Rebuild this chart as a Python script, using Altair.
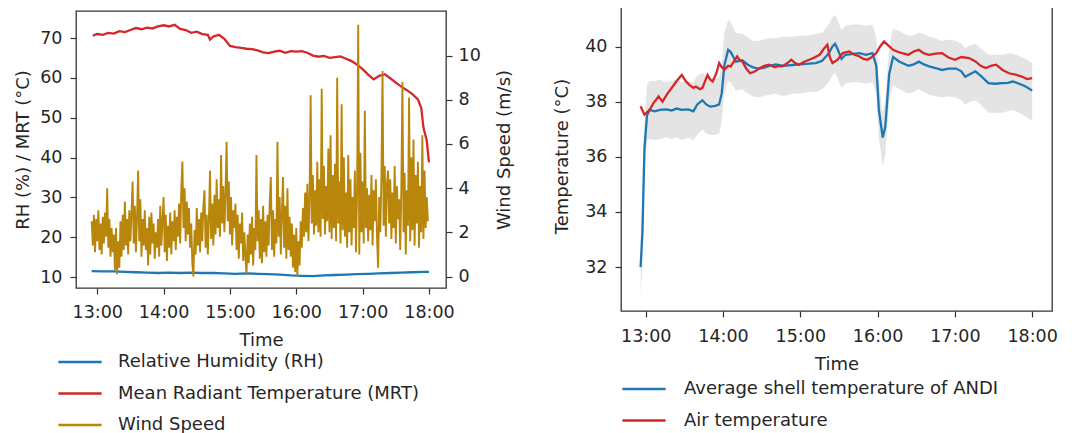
import altair as alt
import pandas as pd

FONT = "DejaVu Sans"
TXT = "#262626"
BLUE = "#1f77b4"
RED = "#d62728"
GOLD = "#b8860b"

# ---------------- left panel data (minutes after 13:00) ----------------
wind_start = -5
wind_step = 1
wind_speed = [
    2.5, 1.4, 2.8, 1.1, 2.6, 1.6, 3.0, 1.2, 2.4, 1.0,
    2.7, 1.5, 2.9, 1.8, 4.0, 1.3, 2.6, 0.9, 2.2, 1.1,
    1.9, 0.3, 2.2, 0.1, 1.6, 0.4, 2.5, 0.9, 2.8, 1.2,
    3.4, 1.4, 2.6, 1.0, 3.0, 1.6, 2.9, 4.3, 1.5, 3.2,
    1.1, 2.7, 4.8, 1.6, 3.5, 0.9, 2.6, 1.4, 3.0, 1.2,
    2.2, 0.5, 2.7, 1.0, 2.9, 1.5, 2.4, 0.8, 2.0, 1.3,
    2.6, 0.9, 3.2, 1.4, 2.5, 3.6, 1.1, 2.8, 0.7, 2.3,
    1.3, 2.9, 1.0, 2.5, 1.6, 3.0, 1.2, 2.7, 1.8, 3.3,
    1.5, 3.9, 5.2, 2.2, 4.0, 1.6, 3.4, 1.9, 3.1, 1.3,
    2.4, 0.6, 0.0, 2.1, 1.0, 3.1, 1.4, 2.6, 1.1, 2.9,
    1.6, 3.2, 3.9, 1.3, 2.8, 1.0, 2.6, 4.8, 1.7, 3.3,
    1.4, 3.7, 1.9, 4.4, 2.2, 3.5, 1.8, 5.5, 2.4, 4.1,
    2.0, 3.8, 6.1, 2.5, 4.3, 1.9, 3.6, 1.4, 3.0, 2.2,
    3.3, 1.2, 2.8, 0.8, 2.4, 1.5, 2.9, 0.7, 2.0, 0.9,
    0.1, 1.9, 0.6, 2.4, 1.0, 2.7, 0.5, 2.2, 1.2, 5.5,
    1.6, 3.0, 0.8, 2.6, 0.6, 3.2, 1.1, 2.5, 0.9, 2.8,
    1.4, 3.4, 4.5, 1.2, 3.0, 0.9, 2.6, 1.5, 6.1, 1.8,
    3.6, 1.0, 2.9, 4.5, 1.3, 3.2, 0.8, 4.0, 1.2, 2.7,
    0.9, 2.4, 0.4, 1.9, 0.2, 2.2, 0.0, 1.6, 0.5, 2.5,
    1.3, 3.1, 1.8, 3.8, 2.0, 4.2, 1.6, 3.5, 8.2, 2.4,
    4.6, 1.9, 3.9, 2.3, 5.2, 2.0, 4.4, 1.8, 8.5, 2.6,
    5.0, 1.9, 4.1, 2.5, 5.8, 2.0, 6.4, 1.7, 4.6, 2.2,
    5.1, 1.6, 9.0, 2.4, 4.3, 1.5, 7.8, 2.1, 5.4, 1.8,
    3.8, 1.3, 5.5, 2.0, 4.4, 1.4, 3.6, 2.2, 4.8, 1.1,
    3.9, 11.4, 1.0, 5.6, 2.0, 4.3, 1.5, 7.5, 2.2, 4.0,
    1.6, 3.7, 2.1, 4.6, 1.4, 3.9, 2.5, 4.4, 1.8, 0.4,
    3.6, 2.0, 4.5, 9.3, 2.3, 5.0, 1.8, 4.2, 4.8, 2.4,
    4.4, 1.7, 3.8, 2.2, 5.0, 1.5, 4.1, 2.6, 3.5, 1.2,
    4.0, 8.8, 2.0, 4.7, 1.0, 3.9, 2.3, 8.1, 1.6, 5.4,
    2.1, 6.2, 1.4, 4.6, 2.4, 5.2, 1.3, 4.1, 2.0, 6.4,
    1.7, 4.8, 2.2, 3.6, 2.5,
]

rh_time = [-5, 5, 15, 25, 35, 45, 55, 65, 75, 85, 95, 105, 115, 125, 135, 145,
           155, 165, 175, 185, 195, 205, 215, 225, 235, 245, 255, 265, 275, 285, 295, 300]
rh_values = [11.5, 11.4, 11.4, 11.3, 11.2, 11.1, 11.0, 11.1, 11.0, 11.1, 11.0, 11.0, 10.9, 10.8, 10.9, 10.8,
             10.7, 10.6, 10.4, 10.3, 10.2, 10.4, 10.5, 10.6, 10.7, 10.8, 10.9, 11.0, 11.1, 11.2, 11.3, 11.3]

mrt_time = [-4, 0, 5, 10, 15, 20, 25, 30, 35, 40, 45, 50, 55, 60, 65, 70, 75, 80, 85, 90,
            95, 100, 102, 105, 110, 115, 120, 125, 130, 135, 140, 145, 150, 155, 160, 165,
            170, 175, 180, 185, 190, 195, 200, 205, 210, 215, 220, 225, 230, 235, 240, 245,
            250, 255, 260, 265, 270, 275, 280, 285, 290, 293, 295, 298, 300]
mrt_values = [70.6, 71.0, 70.8, 71.3, 71.1, 71.7, 71.5, 72.0, 72.5, 72.2, 72.6, 72.4, 72.9, 73.2, 72.9, 73.3,
              72.3, 72.0, 71.3, 71.6, 71.0, 70.8, 69.6, 70.4, 70.8, 69.8, 68.0, 67.7, 67.5, 67.3, 67.2,
              66.9, 66.4, 66.2, 66.6, 66.8, 66.3, 66.7, 66.6, 66.7, 66.3, 65.6, 65.3, 65.5, 65.0, 65.2,
              65.4, 64.8, 64.2, 63.3, 62.2, 60.8, 59.6, 60.5, 60.9, 59.9, 58.8, 57.8, 56.9, 55.9, 54.6,
              52.5, 47.5, 44.2, 38.8]

# ---------------- right panel data ----------------
shell_time = [-4, -2.6, -1, 1, 3, 7, 11, 16, 20, 24, 28, 33, 37, 40, 44, 47, 50, 54, 57, 59,
              61, 64, 66, 70, 75, 79, 83, 87, 91, 96, 101, 107, 114, 120, 127, 132, 137, 142, 145, 147,
              149, 152, 155, 160, 166, 171, 176, 179, 181, 184, 186, 189, 192, 197, 204, 208, 212, 216, 220, 225,
              230, 235, 241, 245, 248, 252, 256, 261, 266, 271, 277, 281, 285, 290, 295, 300]
shell_temp = [32.0, 33.2, 36.3, 37.5, 37.7, 37.65, 37.7, 37.72, 37.68, 37.75, 37.7, 37.72, 37.65, 37.9, 38.05, 37.9,
              37.82, 37.85, 37.9, 38.3, 39.3, 39.88, 39.8, 39.45, 39.5, 39.35, 39.25, 39.2, 39.22, 39.3, 39.35,
              39.3, 39.33, 39.35, 39.38, 39.4, 39.48, 39.75, 40.0, 40.1, 39.9, 39.55, 39.7, 39.72, 39.76, 39.7,
              39.76, 39.3, 37.7, 36.7, 37.1, 39.0, 39.62, 39.45, 39.3, 39.35, 39.45, 39.35, 39.28, 39.22, 39.15,
              39.2, 39.2, 39.1, 38.9, 39.0, 39.1, 38.9, 38.67, 38.65, 38.67, 38.68, 38.73, 38.65, 38.55, 38.4]
band_low = [31.0, 32.0, 35.3, 36.6, 36.65, 36.6, 36.65, 36.7, 36.65, 36.7, 36.6, 36.7, 36.6, 36.8, 37.0, 36.85,
            36.8, 36.8, 36.85, 37.3, 38.3, 38.75, 38.7, 38.4, 38.45, 38.3, 38.2, 38.15, 38.2, 38.25, 38.3,
            38.2, 38.3, 38.3, 38.35, 38.35, 38.45, 38.7, 38.95, 39.05, 38.85, 38.5, 38.65, 38.7, 38.7, 38.65,
            38.7, 38.3, 36.7, 35.65, 36.1, 38.0, 38.6, 38.45, 38.3, 38.35, 38.45, 38.35, 38.25, 38.2, 38.15,
            38.2, 38.15, 38.05, 37.9, 38.0, 38.05, 37.85, 37.6, 37.6, 37.6, 37.65, 37.7, 37.6, 37.45, 37.3]
band_high = [33.0, 34.3, 37.3, 38.6, 38.75, 38.75, 38.8, 38.7, 38.75, 38.8, 38.7, 38.75, 38.7, 38.95, 39.05, 38.9,
             38.85, 38.85, 38.9, 39.3, 40.5, 40.95, 40.9, 40.5, 40.45, 40.35, 40.2, 40.2, 40.25, 40.3, 40.3,
             40.35, 40.35, 40.4, 40.4, 40.45, 40.5, 40.8, 41.05, 41.15, 40.95, 40.6, 40.75, 40.8, 40.8, 40.75,
             40.8, 40.3, 38.7, 37.6, 38.1, 40.0, 40.65, 40.55, 40.4, 40.4, 40.5, 40.45, 40.35, 40.3, 40.2,
             40.25, 40.2, 40.1, 39.95, 40.05, 40.1, 39.9, 39.7, 39.7, 39.7, 39.75, 39.75, 39.65, 39.55, 39.4]

air_time = [-4, -1, 3, 6, 10, 13, 17, 21, 24, 28, 31, 34, 37, 39, 42, 44, 48, 50, 52, 55,
            57, 59, 61, 64, 66, 69, 71, 73, 75, 78, 81, 85, 88, 92, 96, 100, 103, 106, 110, 113,
            116, 119, 123, 127, 131, 135, 138, 141, 143, 145, 149, 153, 158, 162, 166, 169, 172, 175, 179, 182,
            185, 188, 192, 196, 199, 204, 208, 212, 216, 220, 225, 230, 235, 240, 245, 251, 256, 260, 264, 268,
            272, 277, 282, 287, 292, 296, 300]
air_temp = [37.83, 37.53, 37.7, 37.95, 38.19, 38.0, 38.3, 38.55, 38.75, 38.97, 38.75, 38.6, 38.5, 38.55, 38.45,
            38.5, 38.97, 38.8, 38.73, 39.05, 39.4, 39.25, 39.16, 39.3, 39.28, 39.5, 39.64, 39.5, 39.46, 39.2,
            39.03, 39.1, 39.2, 39.3, 39.34, 39.25, 39.3, 39.28, 39.4, 39.52, 39.4, 39.34, 39.45, 39.52, 39.6,
            39.7, 39.9, 40.06, 39.6, 39.4, 39.52, 39.76, 39.82, 39.7, 39.64, 39.55, 39.52, 39.6, 39.76, 40.0,
            40.18, 40.05, 39.88, 39.8, 39.76, 39.7, 39.82, 39.88, 39.75, 39.7, 39.74, 39.76, 39.6, 39.52, 39.62,
            39.58, 39.46, 39.3, 39.22, 39.3, 39.34, 39.15, 39.03, 38.98, 38.91, 38.82, 38.85]

left_names = ["Relative Humidity (RH)", "Mean Radiant Temperature (MRT)", "Wind Speed"]
right_names = ["Average shell temperature of ANDI", "Air temperature"]

# ---------------- tables ----------------
wind_df = pd.DataFrame({
    "t": [wind_start + wind_step * i for i in range(len(wind_speed))],
    "v": wind_speed,
    "series": left_names[2],
})
rhmrt_df = pd.concat([
    pd.DataFrame({"t": rh_time, "v": rh_values, "series": left_names[0], "o": 0}),
    pd.DataFrame({"t": mrt_time, "v": mrt_values, "series": left_names[1], "o": 1}),
])
band_df = pd.DataFrame({"t": shell_time, "lo": band_low, "hi": band_high})
temp_df = pd.concat([
    pd.DataFrame({"t": shell_time, "v": shell_temp, "series2": right_names[0], "o": 0}),
    pd.DataFrame({"t": air_time, "v": air_temp, "series2": right_names[1], "o": 1}),
])

XDOM = [-19.2, 315.4]
TICKS = [0, 60, 120, 180, 240, 300]
LABEL_EXPR = "format(13 + datum.value / 60, 'd') + ':00'"


def x_axis(label_pad, title_pad):
    return alt.Axis(values=TICKS, labelExpr=LABEL_EXPR, title="Time", grid=False,
                    tickSize=6, labelPadding=label_pad, titlePadding=title_pad,
                    labelFontSize=17.5, titleFontSize=18, domain=False)


LEG_PATH = "M-2.5,0H2.5"


def legend(x, y, off):
    return alt.Legend(title=None, orient="none", legendX=x, legendY=y, direction="vertical",
                      symbolType=LEG_PATH, symbolSize=300, symbolStrokeWidth=2.5,
                      labelFontSize=18, labelOffset=off, rowPadding=12.5, padding=0,
                      labelLimit=600, labelColor=TXT, labelFont=FONT)


# ---------------- left panel ----------------
left_color = alt.Color("series:N", scale=alt.Scale(domain=left_names, range=[BLUE, RED, GOLD]),
                       legend=legend(-6, 351, 28))
xs = alt.Scale(domain=XDOM, nice=False, zero=False)

rhmrt = alt.Chart(rhmrt_df).mark_line(strokeWidth=2.3).encode(
    x=alt.X("t:Q", scale=xs, axis=x_axis(9.5, 10)),
    y=alt.Y("v:Q", scale=alt.Scale(domain=[7.24, 76.78], nice=False, zero=False),
            axis=alt.Axis(values=[10, 20, 30, 40, 50, 60, 70], title="RH (%) / MRT (°C)", grid=False,
                          tickSize=6, labelPadding=8, titlePadding=7, labelFontSize=17.5,
                          titleFontSize=18, domain=False)),
    color=left_color,
    detail="series:N",
    order="o:Q",
)

wind = alt.Chart(wind_df).mark_line(strokeWidth=1.9).encode(
    x=alt.X("t:Q", scale=xs, axis=x_axis(9.5, 10)),
    y=alt.Y("v:Q", scale=alt.Scale(domain=[-0.52, 12.02], nice=False, zero=False),
            axis=alt.Axis(orient="right", values=[0, 2, 4, 6, 8, 10], title="Wind Speed (m/s)",
                          titleAngle=270, grid=False, tickSize=6, labelPadding=6, titlePadding=33,
                          labelFontSize=17.5, titleFontSize=18, domain=False)),
    color=left_color,
)

left = alt.layer(rhmrt, wind).resolve_scale(y="independent").properties(width=370, height=277)

spacer = alt.Chart(pd.DataFrame({"a": [0]})).mark_point(opacity=0, size=1).encode(
    x=alt.X("a:Q", axis=None), y=alt.Y("a:Q", axis=None)
).properties(width=370, height=8.3, view=alt.ViewBackground(strokeOpacity=0))

left_col = alt.vconcat(spacer, left, spacing=0)

# ---------------- right panel ----------------
band = alt.Chart(band_df).mark_area(color="#e4e4e4", opacity=1).encode(
    x=alt.X("t:Q", scale=xs, axis=x_axis(10, 10.5)),
    y=alt.Y("lo:Q", scale=alt.Scale(domain=[30.41, 41.65], nice=False, zero=False),
            axis=alt.Axis(values=[32, 34, 36, 38, 40], title="Temperature (°C)", grid=False,
                          tickSize=6, labelPadding=8, titlePadding=13, labelFontSize=17.5,
                          titleFontSize=18, domain=False)),
    y2="hi:Q",
)

temps = alt.Chart(temp_df).mark_line(strokeWidth=2.3).encode(
    x=alt.X("t:Q"),
    y=alt.Y("v:Q"),
    color=alt.Color("series2:N", scale=alt.Scale(domain=right_names, range=[BLUE, RED]),
                    legend=legend(13, 378, 30)),
    detail="series2:N",
    order="o:Q",
)

right = alt.layer(band, temps).properties(width=431, height=310)

chart = alt.hconcat(left_col, right, spacing=39).resolve_scale(
    color="independent"
).properties(
    padding={"left": 6, "top": -8, "right": 5, "bottom": 0}
).configure(font=FONT).configure_view(
    stroke="#333333", strokeWidth=1.3
).configure_axis(
    labelColor=TXT, titleColor=TXT, tickColor="#333333", tickWidth=1.2,
    labelFont=FONT, titleFont=FONT, titleFontWeight="normal"
)

chart.save("out.html", embed_options={"renderer": "svg", "actions": False})
